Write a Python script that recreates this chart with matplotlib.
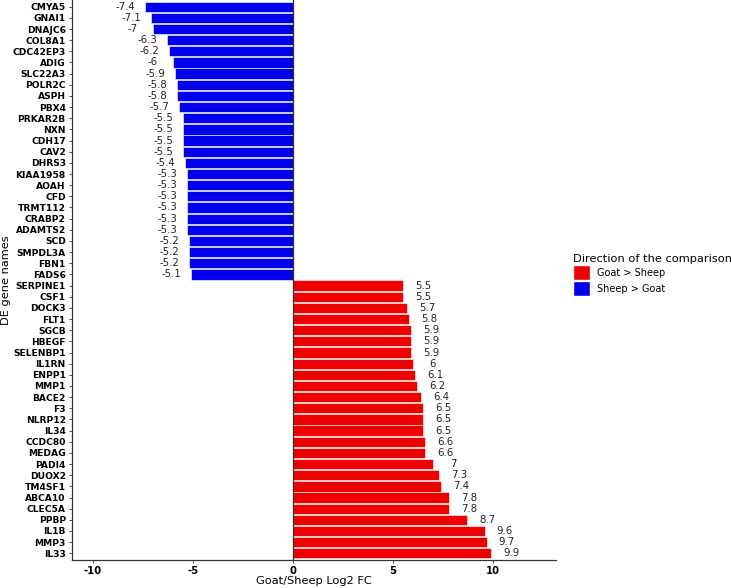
import matplotlib
matplotlib.use("Agg")
import matplotlib.pyplot as plt
from matplotlib.patches import Patch

genes = ["CMYA5", "GNAI1", "DNAJC6", "COL8A1", "CDC42EP3", "ADIG", "SLC22A3", "POLR2C",
         "ASPH", "PBX4", "PRKAR2B", "NXN", "CDH17", "CAV2", "DHRS3", "KIAA1958", "AOAH",
         "CFD", "TRMT112", "CRABP2", "ADAMTS2", "SCD", "SMPDL3A", "FBN1", "FADS6",
         "SERPINE1", "CSF1", "DOCK3", "FLT1", "SGCB", "HBEGF", "SELENBP1", "IL1RN", "ENPP1",
         "MMP1", "BACE2", "F3", "NLRP12", "IL34", "CCDC80", "MEDAG", "PADI4", "DUOX2",
         "TM4SF1", "ABCA10", "CLEC5A", "PPBP", "IL1B", "MMP3", "IL33"]
log2fc = [-7.4, -7.1, -7.0, -6.3, -6.2, -6.0, -5.9, -5.8, -5.8, -5.7, -5.5, -5.5, -5.5,
          -5.5, -5.4, -5.3, -5.3, -5.3, -5.3, -5.3, -5.3, -5.2, -5.2, -5.2, -5.1,
          5.5, 5.5, 5.7, 5.8, 5.9, 5.9, 5.9, 6.0, 6.1, 6.2, 6.4, 6.5, 6.5, 6.5, 6.6, 6.6,
          7.0, 7.3, 7.4, 7.8, 7.8, 8.7, 9.6, 9.7, 9.9]
labels = ["-7.4", "-7.1", "-7", "-6.3", "-6.2", "-6", "-5.9", "-5.8", "-5.8", "-5.7", "-5.5",
          "-5.5", "-5.5", "-5.5", "-5.4", "-5.3", "-5.3", "-5.3", "-5.3", "-5.3", "-5.3",
          "-5.2", "-5.2", "-5.2", "-5.1",
          "5.5", "5.5", "5.7", "5.8", "5.9", "5.9", "5.9", "6", "6.1", "6.2", "6.4", "6.5",
          "6.5", "6.5", "6.6", "6.6", "7", "7.3", "7.4", "7.8", "7.8", "8.7", "9.6", "9.7", "9.9"]
directions = ["Goat > Sheep", "Sheep > Goat"]
dir_colors = ["#EE0000", "#0000EE"]
xticks = [-10, -5, 0, 5, 10]

fig = plt.figure(figsize=(7.31, 5.88), dpi=100)
ax = fig.add_axes([72 / 731, 28 / 588, (556 - 72) / 731, (588 - 28) / 588])

n = len(genes)
ypos = list(range(n))
colors = [dir_colors[0] if v > 0 else dir_colors[1] for v in log2fc]
ax.barh(ypos, log2fc, height=0.92, color=colors, edgecolor="white", linewidth=0.4, zorder=2)
ax.axvline(0, color="#333333", linewidth=0.9, zorder=3)

for y, v, t in zip(ypos, log2fc, labels):
    xv = v + 1.0 if v > 0 else v - 1.0
    ax.text(xv, y, t, ha="center", va="center", fontsize=7.3, color="#222222")

ax.set_yticks(ypos)
ax.set_yticklabels(genes, fontsize=6.6, fontweight="bold", color="black")
ax.set_ylim(n - 1 + 0.6, -0.6)
ax.set_xlim(-11.05, 13.15)
ax.set_xticks(xticks)
ax.set_xticklabels([str(t) for t in xticks], fontsize=7.2, fontweight="bold", color="black")
ax.tick_params(axis="both", length=2.5, width=0.6, color="#333333", pad=2)
ax.set_xlabel("Goat/Sheep Log2 FC", fontsize=8.2, labelpad=0)
ax.set_ylabel("DE gene names", fontsize=8.2, labelpad=1)
for s in ["top", "right"]:
    ax.spines[s].set_visible(False)
for s in ["left", "bottom"]:
    ax.spines[s].set_linewidth(0.9)
    ax.spines[s].set_color("#333333")

handles = [Patch(facecolor=c, edgecolor="white", label=d) for c, d in zip(dir_colors, directions)]
leg = fig.legend(handles=handles, title="Direction of the comparison", loc="upper left",
                 bbox_to_anchor=(573 / 731, 1 - 254 / 588), frameon=False, fontsize=7,
                 title_fontsize=8.2, handlelength=1.75, handleheight=2.0, handletextpad=0.75,
                 labelspacing=0.1, borderaxespad=0, borderpad=0)
leg._legend_box.align = "left"

fig.savefig("out.png", dpi=100)
